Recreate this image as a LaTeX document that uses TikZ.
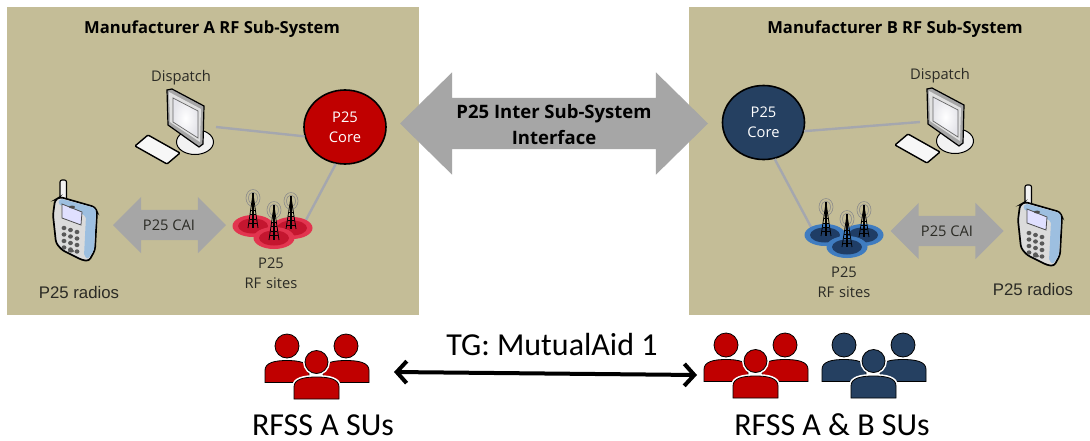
\documentclass[tikz,border=0pt]{standalone}
\usepackage{fontspec}
\setmainfont{Open Sans}
\newfontfamily\arialfont{Liberation Sans}
\newfontfamily\califont{Carlito}
\usetikzlibrary{shapes.geometric,shapes.arrows,arrows.meta}
\definecolor{panelc}{HTML}{C4BD97}
\definecolor{arrowc}{HTML}{A6A6A6}
\definecolor{linkc}{HTML}{A5A7AE}
\definecolor{redc}{HTML}{C00000}
\definecolor{bluec}{HTML}{254061}
\definecolor{txtc}{HTML}{2B2B25}
\definecolor{sitered}{HTML}{E2354F}
\definecolor{sitereddark}{HTML}{C4162F}
\definecolor{siteblue}{HTML}{3F7CC0}
\definecolor{sitebluedark}{HTML}{1F3D66}
\definecolor{phoneblue}{HTML}{9DBFE0}
\tikzset{
  panel/.style={fill=panelc,draw=none},
  coreball/.style={ellipse,draw=black,line width=1.6,minimum width=82,minimum height=74,inner sep=0,align=center,text=white,font=\fontsize{14.7}{20}\selectfont},
  lbl/.style={text=txtc,inner sep=0,align=center,font=\fontsize{14.7}{20}\selectfont},
  titlelbl/.style={text=black,inner sep=0,font=\fontsize{16.6}{18}\selectfont\bfseries},
  radiolbl/.style={text=txtc,inner sep=0,font=\fontsize{16.8}{18}\selectfont\arialfont},
  botlbl/.style={text=black,inner sep=0,font=\fontsize{32}{32}\selectfont\califont},
  link/.style={draw=linkc,line width=2.4},
  bigarrow/.style={double arrow,fill=arrowc,draw=none,inner sep=0,minimum height=308,double arrow head extend=25.5,double arrow tip angle=89},
  caiarrow/.style={double arrow,fill=arrowc,draw=none,inner sep=0,minimum height=113,double arrow head extend=13,double arrow tip angle=90},
}
\newcommand{\computerdraw}{%
  \fill[white!90!gray,draw=black,line width=1] (195,142) ellipse [x radius=18.5,y radius=12.5];
  \fill[black!35,draw=black,line width=1.2] (167,90) -- (172,89) -- (204,106) -- (203,144) -- (199,147) -- (168,125) -- cycle;
  \fill[black!12] (169,92) -- (201,109) -- (200,142) -- (170,122) -- cycle;
  \shade[inner color=white,outer color=blue!20!black!10,draw=black!60,line width=.7] (173,98) -- (198,111) -- (198,138) -- (173,122) -- cycle;
  \fill[white!94!gray,draw=black,line width=1.4,rounded corners=1] (135,146) -- (148,135) -- (180,153) -- (167,164) -- cycle;
}
\newcommand{\phonedraw}{%
  \fill[white!90!gray,draw=black,line width=1.1,rounded corners=2] (60,198) -- (60,180) -- (66.5,180) -- (66.5,200) -- cycle;
  \fill[black!14,draw=black,line width=1.7,rounded corners=3] (55,200) -- (60,197) -- (95,207) -- (97,212) -- (95,250) -- (89,261) -- (82,260) -- (62,250) -- (56,243) -- (53,215) -- cycle;
  \fill[phoneblue,rounded corners=2] (60,198.5) -- (95,208) -- (96,212) -- (94,250) -- (88,259) -- (84,256) -- (86,216) -- (58,204) -- cycle;
  \fill[blue!12,draw=black!70,line width=.8] (62,204) -- (82,212) -- (81,225) -- (62,218) -- cycle;
  \fill[black!70] (72,207) ellipse [x radius=3,y radius=1.4];
  \foreach \r in {0,1,2,3}{
    \foreach \c/\dy in {0/0,1/2,2/4}{
      \fill[black!65] ({64+6.5*\c},{228+\dy+6.5*\r}) ellipse [x radius=2.4,y radius=2.2];
    }
  }
  \fill[black!65] (71,251) ellipse [x radius=3,y radius=1.5];
}
\newcommand{\towerdraw}[3]{% x, top y, base y
  \draw[black!45,line width=.6] (#1,#2) ellipse [x radius=7,y radius=8.5];
  \draw[black!45,line width=.6] (#1,#2) ellipse [x radius=4.5,y radius=6];
  \draw[black,line width=.8] (#1,#2-4) -- (#1-5,#3) (#1,#2-4) -- (#1+5,#3);
  \draw[black,line width=1.2] (#1,#2-5) -- (#1,#3);
  \foreach \f in {.4,.55,.7,.85}{
    \draw[black,line width=.6] ({#1-4.6*\f},{#2+(#3-#2)*\f}) -- ({#1+4.6*\f},{#2+(#3-#2)*\f});
  }
}
\newcommand{\sitedisc}[4]{% x,y,outer,inner
  \fill[#3] (#1,#2) ellipse [x radius=20.5,y radius=11];
  \fill[#4] (#1,#2) ellipse [x radius=15,y radius=7.5];
}
\newcommand{\bodypath}[5]{% cx, head y, half width, body height, top offset
  (#1-#3,#2+#5+#4) -- (#1-#3,#2+#5+#4*.45) .. controls (#1-#3,#2+#5+2) and (#1-#3*.55,#2+#5) .. (#1,#2+#5) .. controls (#1+#3*.55,#2+#5) and (#1+#3,#2+#5+2) .. (#1+#3,#2+#5+#4*.45) -- (#1+#3,#2+#5+#4) -- cycle
}
\newcommand{\person}[7]{% cx, head y, half width, colour, body height, body top offset, head radius
  \draw[white,fill=white,line width=4] \bodypath{#1}{#2}{#3}{#5}{#6};
  \draw[white,fill=white,line width=4] (#1,#2) circle [radius=#7];
  \draw[fill=#4,draw=black,line width=.8] \bodypath{#1}{#2}{#3}{#5}{#6};
  \draw[fill=#4,draw=black,line width=.8] (#1,#2) circle [radius=#7];
}
\newcommand{\groupdraw}[1]{%
  \person{287}{346}{22}{#1}{22}{14.5}{12}
  \person{346}{346}{23}{#1}{22}{14.5}{12}
  \person{316.5}{362}{22.5}{#1}{22}{15}{11.5}
}
\begin{document}
\begin{tikzpicture}[x=1pt,y=-1pt]
\useasboundingbox (0,0) rectangle (1090,440);
\fill[white] (0,0) rectangle (1090,440);
\fill[panel] (7,7) rectangle (419,315);
\fill[panel] (689,7) rectangle (1090,315);

\node[bigarrow] (bigarr) at (554,123.5) {\rule{0pt}{51pt}};
\node[inner sep=0,align=center,text=black,font=\fontsize{18.5}{26}\selectfont\bfseries] (bigtxt) at (554,125) {P25 Inter Sub-System\\Interface};

\node[titlelbl] (titleA) at (212,29) {Manufacturer A RF Sub-System};
\node[titlelbl] (titleB) at (895,29) {Manufacturer B RF Sub-System};

% core balls
\node[coreball,fill=redc] (coreA) at (345,127) {P25\\Core};
\node[coreball,fill=bluec] (coreB) at (763.5,122.5) {P25\\Core};

% connector ends
\coordinate (dispA) at (216,127);
\coordinate (sitesA) at (306,220);
\coordinate (dispB) at (920,122);
\coordinate (sitesB) at (811,227);
\draw[link] (dispA) -- (coreA.193);
\draw[link] (sitesA) -- (coreA.-104);
\draw[link] (dispB) -- (coreB.-12);
\draw[link] (sitesB) -- (coreB.-73);

% dispatch terminals
\computerdraw
\begin{scope}[shift={(760,-1)}]\computerdraw\end{scope}
\node[lbl] (dispAtxt) at (181,78) {Dispatch};
\node[lbl] (dispBtxt) at (940,76) {Dispatch};

% radios
\phonedraw
\begin{scope}[shift={(965,5)}]\phonedraw\end{scope}
\node[radiolbl] (radA) at (79,292) {P25 radios};
\node[radiolbl] (radB) at (1033,289) {P25 radios};

% sites
\sitedisc{253}{226}{sitered}{sitereddark}
\sitedisc{292}{228}{sitered}{sitereddark}
\sitedisc{274}{238}{sitered}{sitereddark}
\towerdraw{253}{198}{228}
\towerdraw{291}{201}{229}
\towerdraw{274}{210}{240}
\sitedisc{825}{235}{siteblue}{sitebluedark}
\sitedisc{863}{235}{siteblue}{sitebluedark}
\sitedisc{847}{247}{siteblue}{sitebluedark}
\towerdraw{826}{207}{236}
\towerdraw{864}{210}{237}
\towerdraw{847}{219}{247}
\node[lbl,text width=70] (siteAtxt) at (271,273) {P25\\RF sites};
\node[lbl,text width=70] (siteBtxt) at (844,282) {P25\\RF sites};

% CAI arrows
\node[caiarrow] (caiA) at (169.5,225) {\rule{0pt}{30pt}};
\node[lbl] at (169,225) {P25 CAI};
\node[caiarrow] (caiB) at (947,231) {\rule{0pt}{30pt}};
\node[lbl] at (947,231) {P25 CAI};

% people
\groupdraw{redc}
\begin{scope}[shift={(439,-1)}]\groupdraw{redc}\end{scope}
\begin{scope}[shift={(557,-1)}]\groupdraw{bluec}\end{scope}

\coordinate (tgL) at (394,372);
\coordinate (tgR) at (697,375);
\draw[line width=4,black,line cap=round,{Straight Barb[length=10,width=22]}-{Straight Barb[length=10,width=22]}] (tgL) -- (tgR);
\node[botlbl] (tg) at (552,345) {TG: MutualAid 1};
\node[botlbl] (suA) at (323,425) {RFSS A SUs};
\node[botlbl] (suB) at (832,425) {RFSS A \& B SUs};
\end{tikzpicture}
\end{document}
